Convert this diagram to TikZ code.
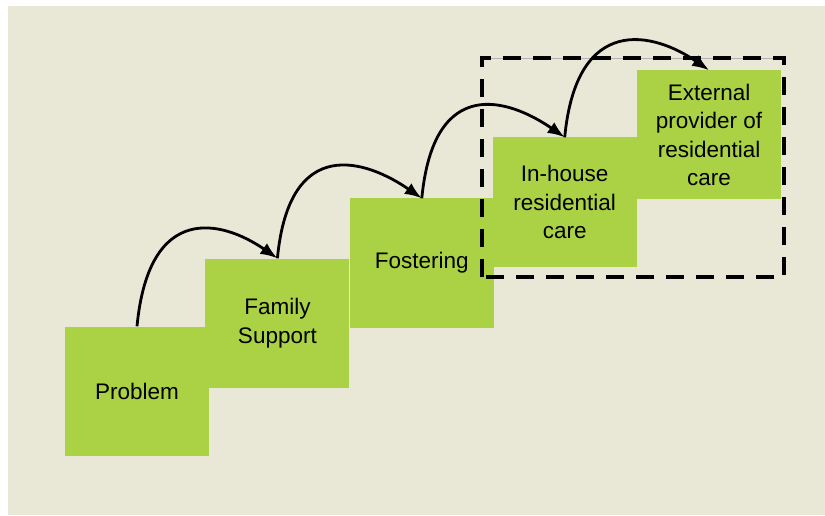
\documentclass[tikz,border=0pt]{standalone}
\usepackage{fontspec}
\setmainfont{Liberation Sans}
\usetikzlibrary{positioning,arrows.meta}
\definecolor{stepgreen}{RGB}{170,210,68}
\definecolor{paper}{RGB}{233,232,214}
\tikzset{
  stepbox/.style={fill=stepgreen, minimum width=144pt, minimum height=129pt, inner sep=0pt, align=center, font=\fontsize{22.5}{28.5}\selectfont},
  hop/.style={line width=2.8pt, -{Latex[length=17pt,width=13pt]}},
  dashframe/.style={line width=3.8pt, dash pattern=on 18pt off 12pt}
}
\begin{document}
\begin{tikzpicture}[x=1pt,y=1pt]
\useasboundingbox (0,0) rectangle (825,515);
\fill[paper] (8,0) rectangle (825,509);
\node[stepbox] (problem) at (137,124) {Problem};
\node[stepbox, right=-4pt of problem, yshift=68pt] (family) {Family\\Support};
\node[stepbox, right=0pt of family, yshift=60pt] (fostering) {Fostering};
\node[stepbox, right=-1.5pt of fostering, yshift=61pt] (inhouse) {In-house\\residential\\care};
\node[stepbox, right=0pt of inhouse, yshift=67pt] (external) {External\\provider of\\residential\\care};
% dashed frame round the residential options
\coordinate (frame sw) at (482,238);
\coordinate (frame ne) at (784,457);
\draw[gray!60, line width=0.8pt] (frame sw |- frame ne) -- (frame ne);
\draw[dashframe] (frame sw) rectangle (frame ne);
\foreach \a/\b in {problem/family, family/fostering, fostering/inhouse, inhouse/external}
  \draw[hop] (\a.north) .. controls +(12,125) and +(-55,38) .. (\b.north);
\end{tikzpicture}
\end{document}
